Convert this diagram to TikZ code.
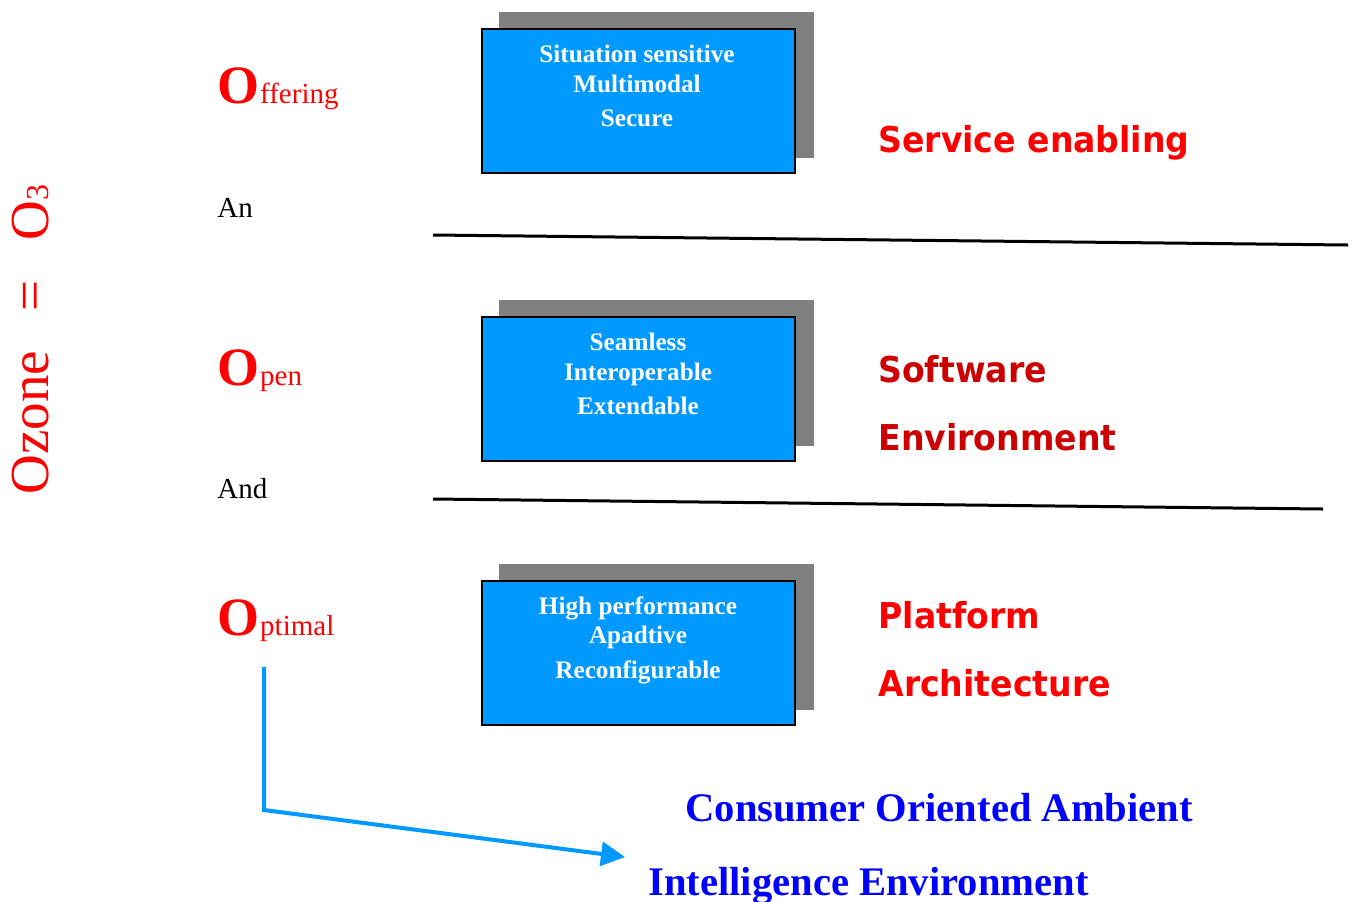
\documentclass[tikz,border=0pt]{standalone}
\usepackage{fontspec}
\setmainfont{Liberation Serif}
\newfontfamily\lblfont[FakeStretch=0.93]{DejaVu Sans}
\usetikzlibrary{arrows.meta}
\definecolor{boxblue}{HTML}{0099FF}
\definecolor{boxgray}{HTML}{808080}
\definecolor{redA}{HTML}{FF0000}
\definecolor{redB}{HTML}{CC0000}
\definecolor{txtblue}{HTML}{0000FF}
\begin{document}
\begin{tikzpicture}[x=0.5pt,y=-0.5pt,
  shadowbox/.style={fill=boxgray, draw=none, minimum width=157.5pt, minimum height=73pt, inner sep=0pt},
  bluebox/.style={fill=boxblue, draw=black, line width=1pt, minimum width=156.5pt, minimum height=72pt, inner sep=0pt},
  boxtext/.style={text=white, font=\fontsize{12.6}{14}\selectfont\bfseries, inner sep=0pt, anchor=base},
  lefttext/.style={inner sep=0pt, anchor=base west},
  bigO/.style={lefttext, text=redA, font=\fontsize{27}{30}\selectfont\bfseries},
  small/.style={font=\fontsize{14.5}{16}\selectfont},
  righttext/.style={inner sep=0pt, anchor=base west, font=\lblfont\fontsize{17.8}{20}\selectfont\bfseries},
  bluetext/.style={inner sep=0pt, anchor=base west, text=txtblue, font=\fontsize{20.3}{22}\selectfont\bfseries},
  sepline/.style={draw=black, line width=1.5pt},
  bluearrow/.style={draw=boxblue, line width=2pt, -{Triangle[length=12pt,width=12pt]}}]
\useasboundingbox (0,0) rectangle (1359,901);
\fill[white] (0,0) rectangle (1359,901);

% vertical title
\node[rotate=90, anchor=base west, inner sep=0pt, text=redA, font=\fontsize{27.5}{30}\selectfont] (ozone) at (48,495)
  {Ozone\hspace{20pt}=\hspace{20pt}O{\fontsize{16}{18}\selectfont 3}};

% left words
\node[bigO] (offO) at (217,103) {O};
\node[lefttext, text=redA, small, anchor=base west] (offrest) at (offO.base east) {ffering};
\node[lefttext, small] (an) at (217,217) {An};
\node[bigO] (openO) at (217,385) {O};
\node[lefttext, text=redA, small, anchor=base west] (openrest) at (openO.base east) {pen};
\node[lefttext, small] (and) at (217,498) {And};
\node[bigO] (optO) at (217,635) {O};
\node[lefttext, text=redA, small, anchor=base west] (optrest) at (optO.base east) {ptimal};

% separator lines
\coordinate (l1a) at (433,235); \coordinate (l1b) at (1348,245);
\coordinate (l2a) at (433,499); \coordinate (l2b) at (1323,509);
\draw[sepline] (l1a) -- (l1b);
\draw[sepline] (l2a) -- (l2b);

% boxes
\node[shadowbox] (s1) at (656.5,85) {};
\node[bluebox] (b1) at (638.5,101) {};
\node[boxtext] (t1a) at (637,62) {Situation sensitive};
\node[boxtext] (t1b) at (637,92) {Multimodal};
\node[boxtext] (t1c) at (637,126) {Secure};

\node[shadowbox] (s2) at (656.5,373) {};
\node[bluebox] (b2) at (638.5,389) {};
\node[boxtext] (t2a) at (638,350) {Seamless};
\node[boxtext] (t2b) at (638,380) {Interoperable};
\node[boxtext] (t2c) at (638,414) {Extendable};

\node[shadowbox] (s3) at (656.5,637) {};
\node[bluebox] (b3) at (638.5,653) {};
\node[boxtext] (t3a) at (638,614) {High performance};
\node[boxtext] (t3b) at (638,643) {Apadtive};
\node[boxtext] (t3c) at (638,678) {Reconfigurable};

% right labels
\node[righttext, text=redA] (r1) at (878,152) {Service enabling};
\node[righttext, text=redB] (r2) at (878,382) {Software};
\node[righttext, text=redB] (r3) at (878,450) {Environment};
\node[righttext, text=redA] (r4) at (878,628) {Platform};
\node[righttext, text=redA] (r5) at (878,696) {Architecture};

% bottom text
\node[bluetext] (c1) at (685,821) {Consumer Oriented Ambient};
\node[bluetext] (c2) at (648,895) {Intelligence Environment};

% arrow
\coordinate (a0) at (264,667);
\coordinate (a1) at (264,810);
\coordinate (a2) at (625,857);
\draw[bluearrow] (a0) -- (a1) -- (a2);
\end{tikzpicture}
\end{document}
